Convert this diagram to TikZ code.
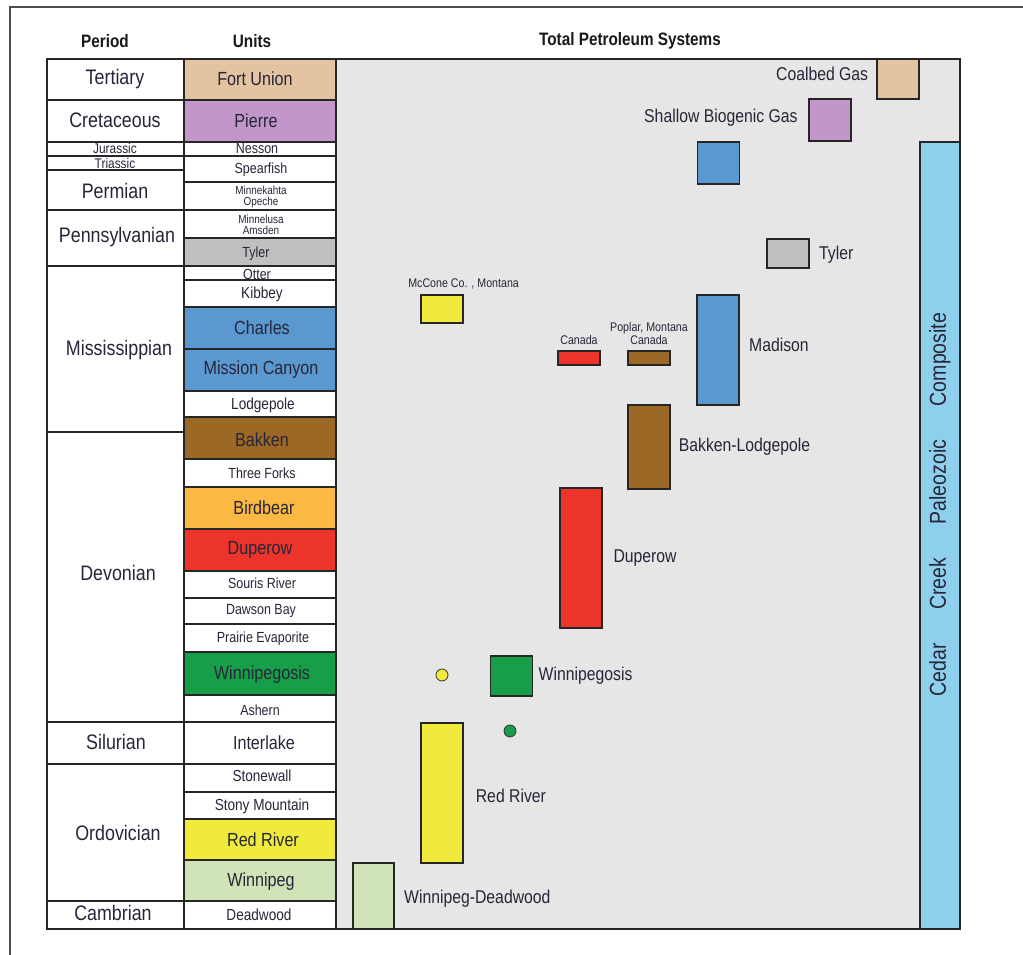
\documentclass[tikz,border=0pt]{standalone}
\usepackage{fontspec}
\setmainfont{Liberation Sans}[FakeStretch=0.85]
\usepackage{xcolor}
\usetikzlibrary{positioning}
\definecolor{ink}{RGB}{38,38,56}
\definecolor{cTan}{RGB}{228,196,160}
\definecolor{cLilac}{RGB}{194,150,202}
\definecolor{cGray}{RGB}{192,192,192}
\definecolor{cBlue}{RGB}{92,152,208}
\definecolor{cBrown}{RGB}{156,104,38}
\definecolor{cOrange}{RGB}{251,184,66}
\definecolor{cRed}{RGB}{236,52,42}
\definecolor{cGreen}{RGB}{24,158,72}
\definecolor{cYellow}{RGB}{240,234,60}
\definecolor{cPale}{RGB}{208,228,184}
\definecolor{cSky}{RGB}{142,208,236}
\definecolor{cBack}{RGB}{230,230,230}

\tikzset{
  cell/.style={draw=black!85,line width=0.9pt},
  head/.style={font=\bfseries\fontsize{13.5}{16}\selectfont,text=black!90},
  period/.style={font=\fontsize{15.75}{18}\selectfont,text=ink},
  jtperiod/.style={font=\fontsize{10.5}{12}\selectfont,text=ink,inner sep=0pt},
  bigunit/.style={font=\fontsize{14.25}{16}\selectfont,text=ink},
  midunit/.style={font=\fontsize{12}{14}\selectfont,text=ink},
  smallunit/.style={font=\fontsize{11}{13}\selectfont,text=ink},
  tinyunit/.style={font=\fontsize{8.75}{7.8}\selectfont,align=center,text=ink,inner sep=0pt},
  tps/.style={draw=black!85,line width=0.9pt,minimum width=31.5pt,inner sep=0pt},
  tpslabel/.style={font=\fontsize{13.9}{16}\selectfont,text=ink,inner sep=0pt},
  note/.style={font=\fontsize{9.4}{8}\selectfont,align=center,text=ink,inner sep=0pt},
  dot/.style={circle,draw=black!80,line width=0.6pt,minimum size=9pt,inner sep=0pt}
}

\begin{document}
\begin{tikzpicture}[x=0.75pt,y=-0.75pt]
  \useasboundingbox (0,0) rectangle (1023,955);
  \fill[white] (0,0) rectangle (1023,955);
  \draw[line width=1.1pt,black!70] (10,955) -- (10,7) -- (1023,7);

  % headings
  \node[head] (hperiod) at (105,41) {Period};
  \node[head] (hunits) at (252,41) {Units};
  \node[head] (htps) at (630,41) {Total Petroleum Systems};

  % petroleum systems field
  \filldraw[fill=cBack,cell] (336,59) rectangle (960,929);
  \filldraw[fill=cSky,cell] (920,142) rectangle (960,929);
  \node[rotate=90,font=\fontsize{17.25}{20}\selectfont,text=ink] (cedar) at (940,504.5)
    {Cedar\hspace{25pt}Creek\hspace{25pt}Paleozoic\hspace{25pt}Composite};

  % coloured units
  \filldraw[cell,fill=cTan] (184,59) rectangle (336,100);
  \filldraw[cell,fill=cLilac] (184,100) rectangle (336,142);
  \filldraw[cell,fill=cGray] (184,238) rectangle (336,266);
  \filldraw[cell,fill=cBlue] (184,307) rectangle (336,349);
  \filldraw[cell,fill=cBlue] (184,349) rectangle (336,391);
  \filldraw[cell,fill=cBrown] (184,417) rectangle (336,459);
  \filldraw[cell,fill=cOrange] (184,487) rectangle (336,529);
  \filldraw[cell,fill=cRed] (184,529) rectangle (336,571);
  \filldraw[cell,fill=cGreen] (184,652) rectangle (336,695);
  \filldraw[cell,fill=cYellow] (184,819) rectangle (336,860);
  \filldraw[cell,fill=cPale] (184,860) rectangle (336,901);

  % periods
  \node[period] (tertiary) at (115,79) {Tertiary};
  \node[period] (cretaceous) at (115,120) {Cretaceous};
  \node[jtperiod] (jurassic) at (115,148) {Jurassic};
  \node[jtperiod] (triassic) at (115,163) {Triassic};
  \node[period] (permian) at (115,191) {Permian};
  \node[period] (pennsylvanian) at (117,237) {Pennsylvanian};
  \node[period] (mississippian) at (119,350) {Mississippian};
  \node[period] (devonian) at (118,573) {Devonian};
  \node[period] (silurian) at (116,742) {Silurian};
  \node[period] (ordovician) at (118,833) {Ordovician};
  \node[period] (cambrian) at (113,913) {Cambrian};

  % units
  \node[bigunit] (fortunion) at (255,79) {Fort Union};
  \node[bigunit] (pierre) at (256,121) {Pierre};
  \node[smallunit] (nesson) at (257,149) {Nesson};
  \node[smallunit] (spearfish) at (261,170) {Spearfish};
  \node[tinyunit] (minnekahta) at (261,197) {Minnekahta\\Opeche};
  \node[tinyunit] (minnelusa) at (261,225) {Minnelusa\\Amsden};
  \node[smallunit] (tyler) at (256,254) {Tyler};
  \node[smallunit] (otter) at (257,274) {Otter};
  \node[midunit] (kibbey) at (262,294) {Kibbey};
  \node[bigunit] (charles) at (262,328) {Charles};
  \node[bigunit] (missioncanyon) at (261,370) {Mission Canyon};
  \node[midunit] (lodgepole) at (263,405) {Lodgepole};
  \node[bigunit] (bakken) at (262,440) {Bakken};
  \node[smallunit] (threeforks) at (262,473) {Three Forks};
  \node[bigunit] (birdbear) at (264,508) {Birdbear};
  \node[bigunit] (duperowu) at (260,550) {Duperow};
  \node[smallunit] (sourisriver) at (262,583) {Souris River};
  \node[smallunit] (dawsonbay) at (261,611) {Dawson Bay};
  \node[smallunit] (prairie) at (263,639) {Prairie Evaporite};
  \node[bigunit] (winnipegosisu) at (262,675) {Winnipegosis};
  \node[smallunit] (ashern) at (260,710) {Ashern};
  \node[bigunit] (interlake) at (264,743) {Interlake};
  \node[midunit] (stonewall) at (262,776) {Stonewall};
  \node[midunit] (stonymountain) at (262,806) {Stony Mountain};
  \node[bigunit] (redriveru) at (263,840) {Red River};
  \node[bigunit] (winnipeg) at (261,882) {Winnipeg};
  \node[midunit] (deadwood) at (259,915) {Deadwood};

  % table lines
  \draw[cell] (47,59) rectangle (336,929) (184,59) -- (184,929);
  \draw[cell] (47,100) -- (336,100) (47,142) -- (336,142) (47,156) -- (336,156)
    (47,170) -- (184,170) (184,182) -- (336,182) (47,210) -- (336,210)
    (184,238) -- (336,238) (47,266) -- (336,266) (184,280) -- (336,280)
    (184,307) -- (336,307) (184,349) -- (336,349) (184,391) -- (336,391)
    (184,417) -- (336,417) (47,432) -- (184,432) (184,459) -- (336,459)
    (184,487) -- (336,487) (184,529) -- (336,529) (184,571) -- (336,571)
    (184,598) -- (336,598) (184,624) -- (336,624) (184,652) -- (336,652)
    (184,695) -- (336,695) (47,722) -- (336,722) (47,764) -- (336,764)
    (184,792) -- (336,792) (184,819) -- (336,819) (184,860) -- (336,860)
    (47,901) -- (336,901);

  % petroleum systems
  \node[tps,fill=cTan,minimum height=30pt] (coalbed) at (898,79) {};
  \node[tpslabel,left=6pt of coalbed,yshift=4pt] {Coalbed Gas};
  \node[tps,fill=cLilac,minimum height=31.5pt] (shallowgas) at (830,120) {};
  \node[tpslabel,left=8pt of shallowgas,yshift=2pt] {Shallow Biogenic Gas};
  \node[tps,fill=cBlue,minimum height=31.5pt] (upperblue) at (718.5,163) {};
  \node[tps,fill=cGray,minimum height=21.75pt] (tylerbox) at (788,253.5) {};
  \node[tpslabel,right=7pt of tylerbox,yshift=-1pt] {Tyler};
  \node[tps,fill=cBlue,minimum height=82.5pt] (madison) at (718,350) {};
  \node[tpslabel,right=7pt of madison,yshift=4pt] {Madison};
  \node[tps,fill=cYellow,minimum height=21pt] (mccone) at (442,309) {};
  \node[note,above=4pt of mccone.north east,anchor=south] {McCone Co. , Montana};
  \node[tps,fill=cRed,minimum height=10.5pt] (canada) at (579,358) {};
  \node[note,above=4pt of canada] {Canada};
  \node[tps,fill=cBrown,minimum height=10.5pt] (poplar) at (649,358) {};
  \node[note,above=4pt of poplar] {Poplar, Montana\\Canada};
  \node[tps,fill=cBrown,minimum height=63pt] (bakkenlp) at (649,447) {};
  \node[tpslabel,right=6pt of bakkenlp] {Bakken-Lodgepole};
  \node[tps,fill=cRed,minimum height=105pt] (duperow) at (581,558) {};
  \node[tpslabel,right=8pt of duperow] {Duperow};
  \node[dot,fill=cYellow] (yellowdot) at (442,675) {};
  \node[tps,fill=cGreen,minimum height=30pt] (winnipegosis) at (511.5,676) {};
  \node[tpslabel,right=4pt of winnipegosis] {Winnipegosis};
  \node[dot,fill=cGreen] (greendot) at (510,731) {};
  \node[tps,fill=cYellow,minimum height=105pt] (redriver) at (442,793) {};
  \node[tpslabel,right=9pt of redriver,yshift=-2pt] {Red River};
  \node[tps,fill=cPale,minimum width=30.75pt,minimum height=49.5pt] (wpgdeadwood) at (373.5,896) {};
  \node[tpslabel,right=7pt of wpgdeadwood,yshift=-2pt] {Winnipeg-Deadwood};
\end{tikzpicture}
\end{document}
